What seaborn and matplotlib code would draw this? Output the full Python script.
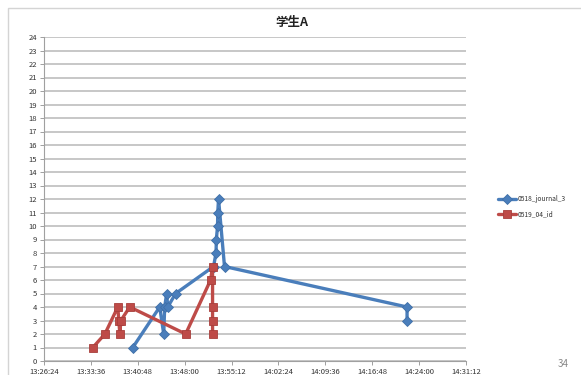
import matplotlib
matplotlib.use("Agg")
import matplotlib.pyplot as plt
from matplotlib.patches import Rectangle
import seaborn as sns
import pandas as pd
import numpy as np

# Series data: clock time of each event and its value
journal_times = ["13:40:02", "13:44:10", "13:44:47", "13:44:56", "13:45:14", "13:45:24",
                 "13:46:37", "13:52:26", "13:52:49", "13:52:52", "13:53:03", "13:53:05",
                 "13:53:12", "13:54:07", "14:22:09", "14:22:09"]
journal_values = [1, 4, 2, 4, 5, 4, 5, 7, 8, 9, 10, 11, 12, 7, 4, 3]

id_times = ["13:33:54", "13:35:45", "13:37:44", "13:37:53", "13:38:03", "13:38:12",
            "13:39:34", "13:48:09", "13:51:59", "13:52:17", "13:52:17", "13:52:17",
            "13:52:17"]
id_values = [1, 2, 4, 3, 2, 3, 4, 2, 6, 7, 4, 3, 2]

series_names = ["0518_journal_3", "0519_04_id"]
x_tick_labels = ["13:26:24", "13:33:36", "13:40:48", "13:48:00", "13:55:12",
                 "14:02:24", "14:09:36", "14:16:48", "14:24:00", "14:31:12"]
y_ticks = list(range(0, 25))
chart_title = "学生A"
page_number = "34"


def to_days(times):
    return (pd.to_timedelta(pd.Series(times)).dt.total_seconds() / 86400.0).to_numpy()


journal_df = pd.DataFrame({"t": to_days(journal_times), "v": journal_values})
id_df = pd.DataFrame({"t": to_days(id_times), "v": id_values})
x_ticks = to_days(x_tick_labels)

sns.set_theme(style="white")
plt.rcParams["font.family"] = ["Noto Sans CJK SC", "DejaVu Sans"]

fig = plt.figure(figsize=(5.81, 3.75), dpi=100)
fig.patch.set_facecolor("white")

# chart frame
fig.patches.append(Rectangle((8 / 581, -0.05), 1.0, 1 - 8 / 375 + 0.05,
                             transform=fig.transFigure, fill=False,
                             edgecolor="#d4d4d4", linewidth=1.0))

ax = fig.add_axes([44 / 581, 1 - 361 / 375, (466 - 44) / 581, (361 - 37) / 375])
ax.set_facecolor("white")

blue = "#4a7ebb"
red = "#be4b48"

sns.lineplot(data=journal_df, x="t", y="v", sort=False, estimator=None, errorbar=None,
             ax=ax, color=blue, linewidth=2.4, marker="D", markersize=5,
             markeredgecolor="#3f6fa8", markeredgewidth=0.6,
             label=series_names[0], zorder=2)
sns.lineplot(data=id_df, x="t", y="v", sort=False, estimator=None, errorbar=None,
             ax=ax, color=red, linewidth=2.4, marker="s", markersize=6,
             markeredgecolor="#a83f3c", markeredgewidth=0.6,
             label=series_names[1], zorder=3)

ax.set_xlim(x_ticks[0], x_ticks[-1])
ax.set_ylim(0, 24)
ax.set_xticks(x_ticks)
ax.set_xticklabels(x_tick_labels)
ax.set_yticks(y_ticks)
ax.set_yticklabels([str(v) for v in y_ticks])
ax.set_xlabel("")
ax.set_ylabel("")

ax.grid(axis="y", color="#b8b8b8", linewidth=1.1)
ax.grid(axis="x", visible=False)
ax.set_axisbelow(True)
for side in ["top", "right"]:
    ax.spines[side].set_visible(False)
for side in ["left", "bottom"]:
    ax.spines[side].set_color("#a0a0a0")
    ax.spines[side].set_linewidth(0.8)

ax.tick_params(axis="both", which="major", length=3, width=0.7, color="#a0a0a0",
               labelsize=5.5, labelcolor="#333333", direction="out", pad=2,
               left=True, bottom=True)

# chart title centred over the whole chart frame
fig.text(292 / 581, 1 - 22 / 375, chart_title, fontsize=9, fontweight="bold",
         color="#222222", ha="center", va="center")

leg = ax.legend(loc="center left", bbox_to_anchor=(1.07, 0.475), frameon=False,
                fontsize=4.8, handlelength=2.6, handletextpad=0.25, labelspacing=1.1,
                borderaxespad=0)
for txt in leg.get_texts():
    txt.set_color("#333333")

fig.text(563 / 581, 1 - 364 / 375, page_number, fontsize=7, color="#888888",
         ha="center", va="center")

fig.savefig("out.png", dpi=100, facecolor="white")
